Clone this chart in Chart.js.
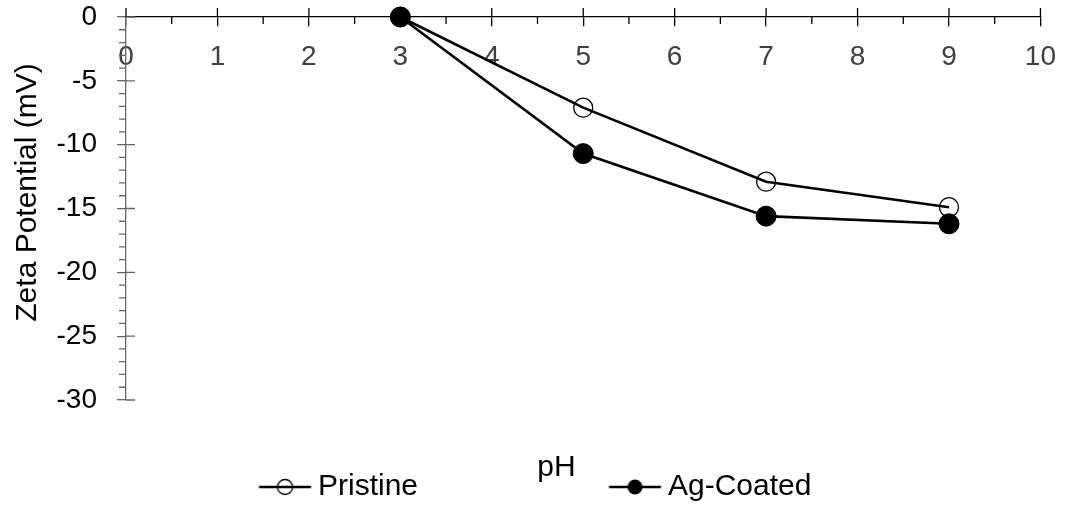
<!DOCTYPE html>
<html>
<head>
<meta charset="utf-8">
<script src="https://cdn.jsdelivr.net/npm/chart.js@4.4.1/dist/chart.umd.min.js"></script>
<style>
  body { margin: 0; background: #fff; }
  #wrap { width: 1070px; height: 506px; }
</style>
</head>
<body>
<div id="wrap"><canvas id="zetaChart"></canvas></div>
<script>
// data
const phValues = [3, 5, 7, 9];
const pristine = [0, -7.1, -12.9, -14.9];
const agCoated = [0, -10.7, -15.6, -16.2];
const seriesNames = ['Pristine', 'Ag-Coated'];
const xTickValues = [0, 1, 2, 3, 4, 5, 6, 7, 8, 9, 10];
const yTickValues = [0, -5, -10, -15, -20, -25, -30];
const yAxisTitle = 'Zeta Potential (mV)';
const xAxisTitle = 'pH';

const FONT = '"Liberation Sans", Arial, sans-serif';
const LEG_SIZE = 30;
const LEG_PAD = 10;

// measure the first legend text so both entries land where they should
const meas = document.createElement('canvas').getContext('2d');
meas.font = LEG_SIZE + 'px ' + FONT;
const t1 = meas.measureText(seriesNames[0]).width;
const legendBoxW = 350 - LEG_SIZE / 2 - t1 - LEG_PAD;
const LEFT_PAD = 318 - LEG_SIZE / 2 - legendBoxW - LEG_PAD;

function legendMark(filled) {
  const offset = legendBoxW / 2 - 18;
  const c = document.createElement('canvas');
  c.width = 2 * (offset + 30);
  c.height = 24;
  const g = c.getContext('2d');
  const cx = c.width / 2 + offset, cy = 12;
  g.strokeStyle = '#000';
  g.lineWidth = 2.5;
  g.beginPath(); g.moveTo(cx - 26, cy); g.lineTo(cx + 26, cy); g.stroke();
  g.beginPath(); g.arc(cx, cy, 7.5, 0, Math.PI * 2);
  if (filled) { g.fillStyle = '#000'; g.fill(); }
  else { g.lineWidth = 1.3; g.stroke(); }
  return c;
}
const legendMarks = [legendMark(false), legendMark(true)];

// inner halves of major ticks, minor ticks, and the y title
const axisExtras = {
  id: 'axisExtras',
  afterDraw(chart) {
    const {ctx, chartArea, scales: {x, y}} = chart;
    const y0 = y.getPixelForValue(0);
    const x0 = x.getPixelForValue(0);
    ctx.save();
    ctx.lineWidth = 1.3;
    ctx.strokeStyle = '#000';
    ctx.beginPath();
    xTickValues.forEach(v => {
      const px = x.getPixelForValue(v);
      ctx.moveTo(px, y0 - 9); ctx.lineTo(px, y0);
    });
    for (let v = 0.5; v < 10; v += 1) {
      const px = x.getPixelForValue(v);
      ctx.moveTo(px, y0); ctx.lineTo(px, y0 + 7);
    }
    ctx.stroke();
    ctx.strokeStyle = '#666';
    ctx.beginPath();
    yTickValues.forEach(v => {
      const py = y.getPixelForValue(v);
      ctx.moveTo(x0, py); ctx.lineTo(x0 + 9, py);
    });
    for (let v = -1; v > -30; v -= 1) {
      if (v % 5 === 0) continue;
      const py = y.getPixelForValue(v);
      ctx.moveTo(x0 - 7, py); ctx.lineTo(x0, py);
    }
    ctx.stroke();

    // y title sits a little above the middle of the axis
    ctx.translate(28, (chartArea.top + chartArea.bottom) / 2 - 16);
    ctx.rotate(-Math.PI / 2);
    ctx.font = '30px ' + FONT;
    ctx.fillStyle = '#000';
    ctx.textAlign = 'center';
    ctx.textBaseline = 'middle';
    ctx.fillText(yAxisTitle, 0, 0);
    ctx.restore();
  }
};

const pts = vals => phValues.map((p, i) => ({x: p, y: vals[i]}));

new Chart(document.getElementById('zetaChart'), {
  type: 'line',
  data: {
    datasets: [{
      label: seriesNames[0],
      data: pts(pristine),
      borderColor: '#000',
      borderWidth: 2.6,
      pointRadius: 9.5,
      pointBorderWidth: 1.3,
      pointBorderColor: '#000',
      pointBackgroundColor: 'rgba(0,0,0,0)',
      clip: false
    }, {
      label: seriesNames[1],
      data: pts(agCoated),
      borderColor: '#000',
      borderWidth: 2.6,
      pointRadius: 10,
      pointBorderWidth: 1,
      pointBorderColor: '#000',
      pointBackgroundColor: '#000',
      clip: false
    }]
  },
  options: {
    responsive: true,
    maintainAspectRatio: false,
    animation: false,
    layout: {padding: {left: LEFT_PAD, right: 25, top: 17, bottom: -6}},
    scales: {
      x: {
        type: 'linear',
        position: {y: 0},
        min: 0, max: 10,
        afterBuildTicks: s => { s.ticks = xTickValues.map(v => ({value: v})); },
        ticks: {font: {family: FONT, size: 28}, color: '#404040', padding: 14},
        grid: {drawOnChartArea: false, tickLength: 9, color: '#000', lineWidth: 1.3},
        border: {color: '#000', width: 1.3}
      },
      y: {
        type: 'linear',
        position: 'left',
        min: -30, max: 0,
        afterBuildTicks: s => { s.ticks = yTickValues.map(v => ({value: v})); },
        afterFit: s => {
          s.width = 126 - LEFT_PAD;
          s.paddingTop = 12;
          s.paddingBottom = 12;
          // the box is narrower than the labels; don't clip the minus signs
          s._computeLabelArea = () => undefined;
        },
        ticks: {font: {family: FONT, size: 28}, color: '#000', padding: 20},
        grid: {drawOnChartArea: false, tickLength: 9, color: '#666', lineWidth: 1.3},
        border: {color: '#666', width: 1.3}
      }
    },
    plugins: {
      tooltip: {enabled: false},
      title: {
        display: true,
        text: xAxisTitle,
        position: 'bottom',
        weight: 500,
        color: '#000',
        font: {family: FONT, size: 30, weight: 'normal'},
        padding: {top: 50, bottom: -24}
      },
      legend: {
        position: 'bottom',
        align: 'start',
        labels: {
          usePointStyle: true,
          pointStyleWidth: legendBoxW,
          padding: LEG_PAD,
          color: '#000',
          font: {family: FONT, size: LEG_SIZE},
          generateLabels: chart => chart.data.datasets.map((ds, i) => ({
            text: ds.label,
            pointStyle: legendMarks[i],
            fontColor: '#000',
            fillStyle: 'rgba(0,0,0,0)',
            strokeStyle: 'rgba(0,0,0,0)',
            lineWidth: 0,
            hidden: false,
            datasetIndex: i
          }))
        }
      }
    }
  },
  plugins: [axisExtras]
});
</script>
</body>
</html>
